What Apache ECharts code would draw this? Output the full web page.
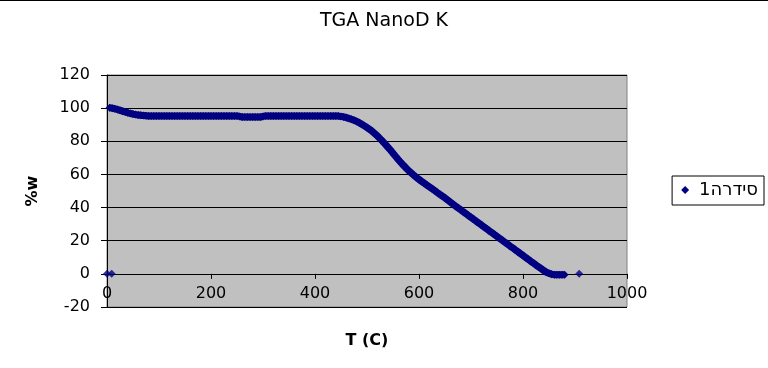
<!DOCTYPE html>
<html>
<head>
<meta charset="utf-8">
<script src="https://cdn.jsdelivr.net/npm/echarts@6/dist/echarts.min.js"></script>
<style>html,body{margin:0;padding:0;background:#fff;}#c{width:768px;height:368px;}</style>
</head>
<body>
<div id="c"></div>
<script>
var titleText = 'TGA NanoD K';
var seriesName = 'סידרה1';
var xName = 'T (C)';
var yName = '%w';
var xTicks = [0, 200, 400, 600, 800, 1000];
var yTicks = [-20, 0, 20, 40, 60, 80, 100, 120];

// isolated readings lying on the zero line
var isoT = [0, 9, 908];
var isoW = [0, 0, 0];

// main TGA trace
var temps = [5,10,15,20,25,30,35,40,45,50,55,60,65,70,75,
  80,85,90,95,100,105,110,115,120,125,130,135,140,145,150,155,160,165,170,175,180,185,190,195,200,205,210,215,220,225,230,235,240,245,250,
  255,260,265,270,275,280,285,290,295,300,
  305,310,315,320,325,330,335,340,345,350,355,360,365,370,375,380,385,390,395,400,405,410,415,420,425,430,435,440,
  445,450,455,460,465,470,475,480,485,490,495,500,505,510,515,520,525,530,535,540,545,550,555,560,565,570,575,580,585,590,595,600,
  605,610,615,620,625,630,635,640,645,650,655,660,665,670,675,680,685,690,695,700,705,710,715,720,725,730,735,740,745,750,
  755,760,765,770,775,780,785,790,795,800,805,810,815,820,825,830,835,840,845,850,855,860,865,870,875,880];
var weights = [100.2,100.0,99.6,99.2,98.7,98.2,97.7,97.2,96.8,96.4,96.1,95.9,95.7,95.5,95.4,
  95.3,95.3,95.3,95.3,95.3,95.3,95.3,95.3,95.3,95.3,95.3,95.3,95.3,95.3,95.3,95.3,95.3,95.3,95.3,95.3,95.3,95.3,95.3,95.3,95.3,95.3,95.3,95.3,95.3,95.3,95.3,95.3,95.3,95.3,95.3,
  95.0,94.6,94.6,94.6,94.6,94.6,94.6,94.6,94.6,95.0,
  95.3,95.3,95.3,95.3,95.3,95.3,95.3,95.3,95.3,95.3,95.3,95.3,95.3,95.3,95.3,95.3,95.3,95.3,95.3,95.3,95.3,95.3,95.3,95.3,95.3,95.3,95.3,95.3,
  95.2,95.0,94.7,94.3,93.8,93.3,92.7,92.0,91.2,90.3,89.3,88.3,87.2,86.0,84.6,83.2,81.6,80.0,78.3,76.5,74.7,72.8,70.9,69.0,67.2,65.5,63.9,62.3,60.9,59.5,58.2,57.0,
  55.8,54.7,53.6,52.5,51.4,50.3,49.1,48.0,46.9,45.8,44.6,43.4,42.2,41.0,39.8,38.7,37.5,36.4,35.2,34.1,32.9,31.8,30.6,29.5,28.3,27.2,26.0,24.9,23.7,22.6,
  21.4,20.3,19.1,18.0,16.8,15.7,14.5,13.4,12.2,11.1,9.9,8.8,7.6,6.5,5.3,4.2,3.1,2.0,1.0,0.3,-0.2,-0.5,-0.5,-0.5,-0.5,-0.5];

var mainData = temps.map(function (t, i) { return [t, weights[i]]; });
var isoData = isoT.map(function (t, i) { return [t, isoW[i]]; });

var FONT = 'DejaVu Sans, Liberation Sans, Arial, sans-serif';
var NAVY = '#000080';

var chart = echarts.init(document.getElementById('c'), null, {renderer: 'canvas'});
chart.setOption({
  animation: false,
  backgroundColor: '#ffffff',
  textStyle: {fontFamily: FONT, color: '#000'},
  title: {
    text: titleText, left: 'center', top: 12, padding: 0,
    textStyle: {fontFamily: FONT, fontSize: 19, fontWeight: 'normal', color: '#000'}
  },
  graphic: [{type: 'rect', shape: {x: 0, y: 0, width: 768, height: 1}, style: {fill: '#000'}, silent: true}],
  legend: {
    right: 4, top: 176,
    orient: 'vertical',
    data: [seriesName],
    icon: 'diamond',
    itemWidth: 8, itemHeight: 8,
    itemGap: 0,
    padding: [5, 6, 6, 9],
    borderColor: '#000', borderWidth: 1, backgroundColor: '#fff',
    textStyle: {fontFamily: FONT, fontSize: 18, lineHeight: 18, color: '#000', padding: [0, 0, 0, 5]}
  },
  grid: {
    left: 107, right: 141, top: 75, bottom: 61,
    show: true, backgroundColor: '#c0c0c0', borderColor: '#808080', borderWidth: 1,
    containLabel: false, outerBoundsMode: 'none'
  },
  xAxis: {
    type: 'value', min: xTicks[0], max: xTicks[xTicks.length - 1], interval: 200,
    name: xName, nameLocation: 'middle', nameGap: 26,
    nameTextStyle: {fontFamily: FONT, fontSize: 16, fontWeight: 'bold', color: '#000'},
    axisLine: {show: true, onZero: true, lineStyle: {color: '#000', width: 1}},
    axisTick: {show: true, inside: false, length: 5, lineStyle: {color: '#000'}},
    axisLabel: {margin: -21, fontFamily: FONT, fontSize: 16, color: '#000',
      formatter: function (v) { return String(v); }},
    splitLine: {show: false}
  },
  yAxis: {
    type: 'value', min: yTicks[0], max: yTicks[yTicks.length - 1], interval: 20,
    name: yName, nameLocation: 'middle', nameGap: 66, nameRotate: 90,
    nameTextStyle: {fontFamily: FONT, fontSize: 16, fontWeight: 'bold', color: '#000'},
    axisLine: {show: true, onZero: false, lineStyle: {color: '#000', width: 1}},
    axisTick: {show: true, inside: false, length: 6, lineStyle: {color: '#000'}},
    axisLabel: {margin: 17, fontFamily: FONT, fontSize: 16, color: '#000',
      formatter: function (v) { return String(v); }},
    splitLine: {show: true, lineStyle: {color: '#000', width: 1}}
  },
  series: [
    {
      name: seriesName, type: 'line', data: mainData,
      symbol: 'diamond', symbolSize: 8, showSymbol: true, showAllSymbol: true,
      itemStyle: {color: NAVY}, lineStyle: {color: NAVY, width: 7},
      clip: false, z: 3
    },
    {
      name: seriesName, type: 'scatter', data: isoData,
      symbol: 'diamond', symbolSize: 8,
      itemStyle: {color: NAVY}, clip: false, z: 3
    }
  ]
});
</script>
</body>
</html>
